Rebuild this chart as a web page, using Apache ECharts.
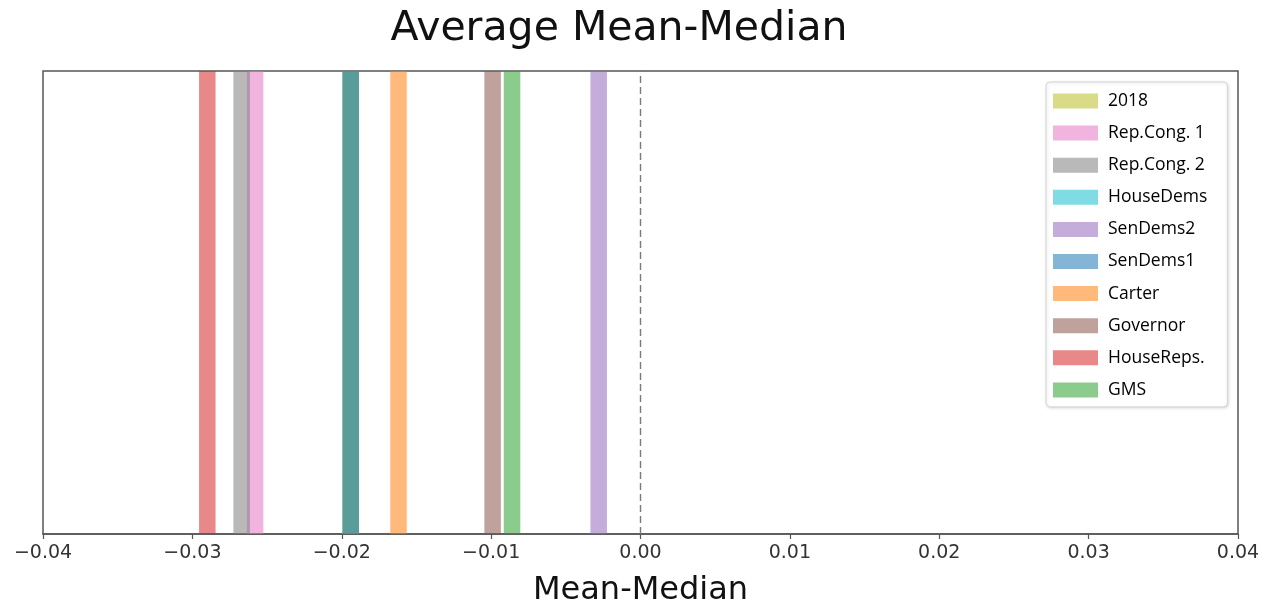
<!DOCTYPE html>
<html>
<head>
<meta charset="utf-8">
<script src="https://cdn.jsdelivr.net/npm/echarts@6/dist/echarts.min.js"></script>
<style>
html,body{margin:0;padding:0;background:#fff;}
#chart{width:1271px;height:612px;}
</style>
</head>
<body>
<div id="chart"></div>
<script>
// ---- data ----
const categories = ['2018', 'Rep.Cong. 1', 'Rep.Cong. 2', 'HouseDems', 'SenDems2', 'SenDems1', 'Carter', 'Governor', 'HouseReps.', 'GMS'];
const meanMedian = [-0.0194, -0.0258, -0.0267, -0.0194, -0.0028, -0.0194, -0.0162, -0.0099, -0.0290, -0.0086];
const xMin = -0.04, xMax = 0.04, xInterval = 0.01;
const tickLabels = ['\u22120.04', '\u22120.03', '\u22120.02', '\u22120.01', '0.00', '0.01', '0.02', '0.03', '0.04'];
const titleText = 'Average Mean-Median';
const xName = 'Mean-Median';

// ---- styles ----
const palette = ['188,189,34', '227,119,194', '127,127,127', '23,190,207', '148,103,189', '31,119,180', '255,127,14', '140,86,75', '214,39,40', '44,160,44'];
const alpha = 0.55;
// drawing order of the bands (overlapping bands blend in this order)
const drawOrder = [3, 0, 5, 1, 2, 4, 6, 7, 8, 9];

const chart = echarts.init(document.getElementById('chart'), null, {renderer: 'canvas'});

const series = drawOrder.map(i => {
  const c = 'rgba(' + palette[i] + ',' + alpha + ')';
  return {
    name: categories[i],
    type: 'line',
    data: [[meanMedian[i], 0], [meanMedian[i], 1]],
    showSymbol: false,
    symbol: 'none',
    color: c,
    lineStyle: {width: 16.5, cap: 'butt', color: c},
    itemStyle: {color: c},
    emphasis: {disabled: true},
    silent: true,
    z: 2
  };
});

series.push({
  name: 'zero',
  type: 'line',
  data: [],
  silent: true,
  markLine: {
    silent: true,
    symbol: ['none', 'none'],
    label: {show: false},
    lineStyle: {type: [7, 4], color: '#7a7a7a', width: 1.4},
    data: [{xAxis: 0}]
  }
});

chart.setOption({
  animation: false,
  backgroundColor: '#ffffff',
  graphic: [{
    type: 'text',
    x: 619,
    y: 29,
    style: {
      text: titleText,
      textAlign: 'center',
      textVerticalAlign: 'middle',
      font: '41px "DejaVu Sans"',
      fill: '#111'
    }
  }],
  grid: {
    left: 43, right: 33, top: 71, bottom: 75,
    show: true, borderColor: '#555', borderWidth: 1.5, backgroundColor: 'transparent'
  },
  legend: {
    data: categories,
    orient: 'vertical',
    left: 1046,
    top: 82,
    padding: [10, 20, 8, 7],
    icon: 'rect',
    itemWidth: 45,
    itemHeight: 15,
    itemGap: 14.1,
    backgroundColor: '#ffffff',
    borderColor: '#d4d4d4',
    borderWidth: 1,
    borderRadius: 4,
    shadowBlur: 3,
    shadowColor: 'rgba(0,0,0,0.12)',
    shadowOffsetX: 1,
    shadowOffsetY: 1,
    selectedMode: false,
    textStyle: {fontFamily: 'Open Sans', fontSize: 17.5, color: '#000', padding: [0, 0, 0, 5], lineHeight: 15}
  },
  xAxis: {
    type: 'value',
    min: xMin,
    max: xMax,
    interval: xInterval,
    name: xName,
    nameLocation: 'middle',
    nameGap: 41,
    nameTextStyle: {fontFamily: 'DejaVu Sans', fontSize: 32, color: '#111'},
    axisLine: {show: true, onZero: false, lineStyle: {color: '#555', width: 1.5}},
    axisTick: {show: true, inside: false, length: 5, lineStyle: {color: '#555', width: 1.2}},
    axisLabel: {
      fontFamily: 'DejaVu Sans', fontSize: 19, color: '#333', margin: 10,
      formatter: v => tickLabels[Math.round((v - xMin) / xInterval)]
    },
    splitLine: {show: false}
  },
  yAxis: {
    type: 'value', min: 0, max: 1, show: false,
    axisLine: {show: false}, splitLine: {show: false}
  },
  series: series
});
</script>
</body>
</html>
